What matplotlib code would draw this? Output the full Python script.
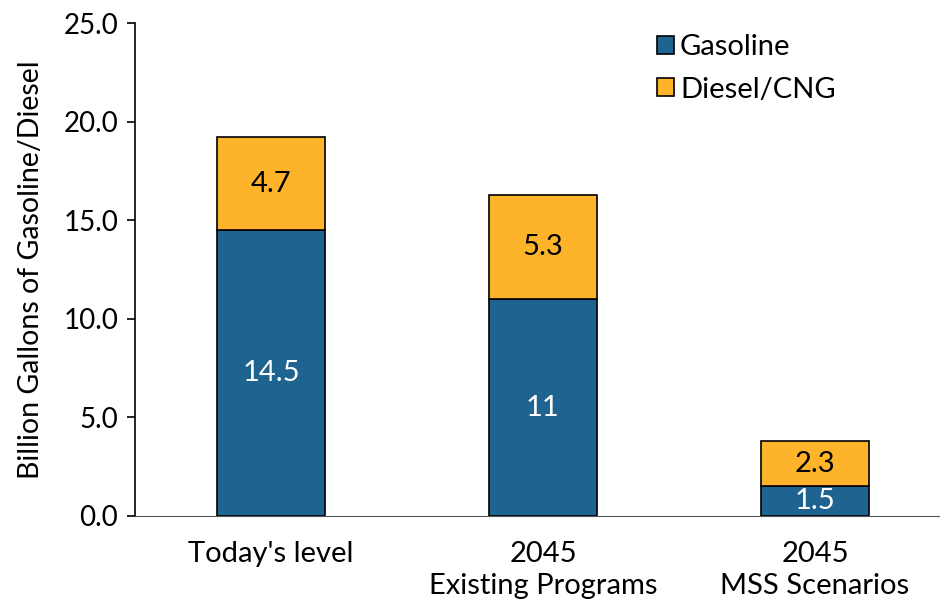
import matplotlib.pyplot as plt
import numpy as np

plt.rcParams['font.family'] = ['Lato', 'DejaVu Sans']

categorias = ["Today's level", "2045\nExisting Programs", "2045\nMSS Scenarios"]
gasolina = [14.5, 11, 1.5]
diesel = [4.7, 5.3, 2.3]
etiquetas_gasolina = ["14.5", "11", "1.5"]
etiquetas_diesel = ["4.7", "5.3", "2.3"]

azul = '#1f6391'
naranja = '#fdb32a'

fig = plt.figure(figsize=(9.4, 6.04), dpi=100)
ax = fig.add_axes([135/940, 88/604, 816/940, 493/604])

x = np.arange(len(categorias))
ax.bar(x, gasolina, width=0.40, color=azul, edgecolor='black', linewidth=1.2, label='Gasoline')
ax.bar(x, diesel, width=0.40, bottom=gasolina, color=naranja, edgecolor='black', linewidth=1.2, label='Diesel/CNG')

for i in range(len(x)):
    ax.text(x[i], gasolina[i] / 2, etiquetas_gasolina[i], ha='center', va='center', color='white', fontsize=21)
    ax.text(x[i], gasolina[i] + diesel[i] / 2, etiquetas_diesel[i], ha='center', va='center', color='black', fontsize=21)

ax.set_xlim(-0.5, 2.5)
ax.set_ylim(0, 25)
ax.set_yticks(np.arange(0, 25.1, 5))
ax.set_yticklabels(['%.1f' % v for v in np.arange(0, 25.1, 5)], fontsize=20)
ax.set_xticks(x)
ax.set_xticklabels(categorias, fontsize=21, linespacing=1.3)
ax.tick_params(axis='x', length=0, pad=18)
ax.tick_params(axis='y', length=6, width=1.2, direction='out', pad=6)
ax.spines['top'].set_visible(False)
ax.spines['right'].set_visible(False)
ax.spines['left'].set_linewidth(1.2)
ax.spines['bottom'].set_color('#555555')
ax.set_ylabel('Billion Gallons of Gasoline/Diesel', fontsize=20.5, labelpad=14)

ax.legend(loc='upper left', bbox_to_anchor=(0.607, 1.03), frameon=False, fontsize=21,
          handlelength=0.6, handleheight=0.6, handletextpad=0.2, labelspacing=0.55)

fig.savefig('out.png', dpi=100)
